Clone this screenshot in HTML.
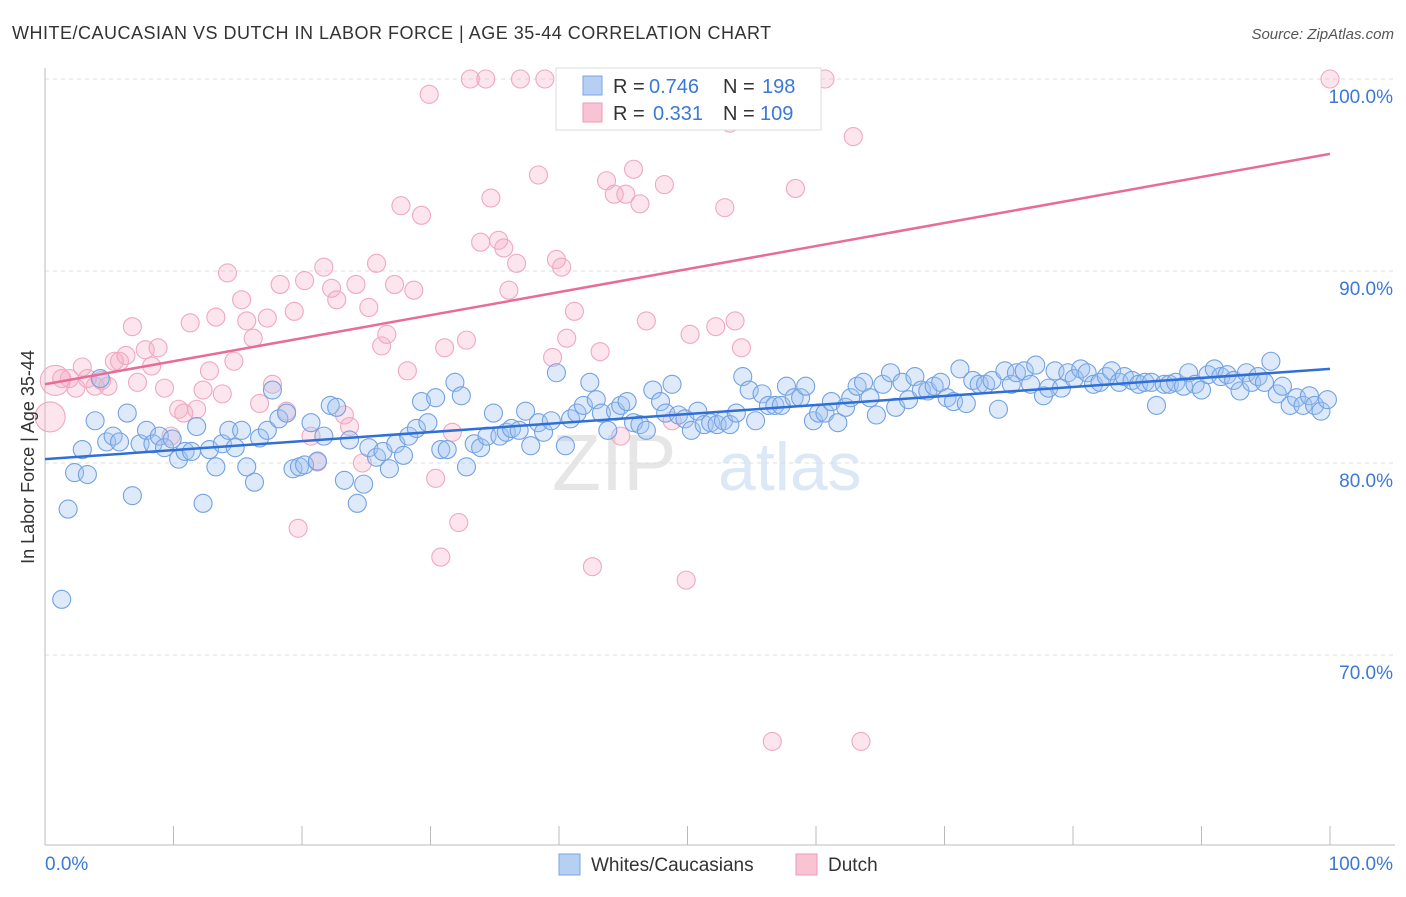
<!DOCTYPE html>
<html><head><meta charset="utf-8"><style>
body{margin:0;background:#fff;font-family:"Liberation Sans",sans-serif;}
svg text{font-family:"Liberation Sans",sans-serif;}
</style></head><body>
<svg id="chart" width="1406" height="892" viewBox="0 0 1406 892" xmlns="http://www.w3.org/2000/svg">
<text x="12" y="39" font-size="18" letter-spacing="0.5" fill="#333">WHITE/CAUCASIAN VS DUTCH IN LABOR FORCE | AGE 35-44 CORRELATION CHART</text>
<text x="1394" y="39" font-size="15" fill="#555" text-anchor="end" font-style="italic">Source: ZipAtlas.com</text>
<g><text x="552" y="490" font-size="80" fill="#e6e6e6" font-family="Liberation Serif">ZIP</text><text x="718" y="490" font-size="68" fill="#dce8f6">atlas</text></g>
<g id="grid"></g>
<g id="axes"></g>
<g id="pts"></g>
<g id="trends"></g>
<text transform="translate(34,457) rotate(-90)" font-size="18" fill="#333" text-anchor="middle">In Labor Force | Age 35-44</text>
<g>
<rect x="556" y="68" width="265" height="62" fill="#fff" stroke="#ddd"/>
<rect x="583" y="76" width="19" height="19" fill="#b5d0f3" stroke="#7aa6e6"/>
<rect x="583" y="103" width="19" height="19" fill="#f8c4d4" stroke="#ee9ab6"/>
<g font-size="20">
<text x="613" y="93" fill="#333">R =</text><text x="649" y="93" fill="#3b78d8">0.746</text>
<text x="723" y="93" fill="#333">N =</text><text x="762" y="93" fill="#3b78d8">198</text></g>
<g font-size="20">
<text x="613" y="120" fill="#333">R =</text><text x="653" y="120" fill="#3b78d8">0.331</text>
<text x="723" y="120" fill="#333">N =</text><text x="760" y="120" fill="#3b78d8">109</text></g>
</g>
<g>
<rect x="559" y="854" width="21" height="21" fill="#b5d0f3" stroke="#7aa6e6"/>
<text x="591" y="871" font-size="19" fill="#333">Whites/Caucasians</text>
<rect x="796" y="854" width="21" height="21" fill="#f8c4d4" stroke="#ee9ab6"/>
<text x="828" y="871" font-size="19" fill="#333">Dutch</text>
</g>
</svg>
<script>
const yTicks=[100,90,80,70];
const yTickLabels=["100.0%","90.0%","80.0%","70.0%"];
const blueX=[1.3,1.8,2.3,2.9,3.3,3.9,4.3,4.8,5.3,5.8,6.4,6.8,7.4,7.9,8.4,8.9,9.3,9.9,10.4,10.9,11.4,11.8,12.3,12.8,13.3,13.8,14.3,14.8,15.3,15.7,16.3,16.7,17.3,17.7,18.2,18.8,19.3,19.8,20.2,20.7,21.2,21.7,22.2,22.7,23.3,23.7,24.3,24.8,25.2,25.8,26.3,26.8,27.3,27.9,28.3,28.9,29.3,29.8,30.4,30.8,31.3,31.9,32.4,32.8,33.4,33.9,34.4,34.9,35.4,35.9,36.3,36.9,37.4,37.8,38.4,38.8,39.4,39.8,40.5,40.9,41.4,41.9,42.4,42.9,43.3,43.8,44.4,44.8,45.3,45.8,46.3,46.8,47.3,47.9,48.3,48.8,49.3,49.8,50.3,50.8,51.3,51.8,52.3,52.8,53.3,53.8,54.3,54.8,55.3,55.8,56.3,56.8,57.3,57.7,58.3,58.8,59.2,59.8,60.2,60.7,61.2,61.7,62.3,62.7,63.2,63.7,64.2,64.7,65.2,65.8,66.2,66.7,67.2,67.7,68.2,68.7,69.2,69.7,70.2,70.7,71.2,71.7,72.2,72.7,73.2,73.7,74.2,74.7,75.2,75.6,76.2,76.7,77.1,77.7,78.1,78.6,79.1,79.6,80.1,80.6,81.1,81.6,82.1,82.6,83.0,83.6,84.0,84.6,85.1,85.6,86.1,86.5,87.1,87.5,88.0,88.6,89.0,89.5,90.0,90.5,91.0,91.5,92.0,92.5,93.0,93.5,93.9,94.4,94.9,95.4,95.9,96.3,96.9,97.4,97.9,98.4,98.8,99.3,99.8];
const blueY=[72.9,77.6,79.5,80.7,79.4,82.2,84.4,81.1,81.4,81.1,82.6,78.3,81.0,81.7,81.0,81.4,80.8,81.25,80.2,80.6,80.6,81.9,77.9,80.7,79.8,81.0,81.7,80.8,81.7,79.8,79.0,81.3,81.7,83.8,82.3,82.6,79.7,79.8,79.9,82.1,80.1,81.4,83.0,82.9,79.1,81.2,77.9,78.9,80.8,80.3,80.6,79.7,81.0,80.4,81.4,81.8,83.2,82.1,83.4,80.7,80.7,84.2,83.5,79.8,81.0,80.8,81.4,82.6,81.4,81.6,81.8,81.7,82.7,80.9,82.1,81.6,82.2,84.7,80.9,82.3,82.6,83.0,84.2,83.3,82.6,81.7,82.7,83.0,83.2,82.1,82.0,81.7,83.8,83.2,82.6,84.1,82.5,82.3,81.7,82.7,82.0,82.1,82.0,82.2,82.0,82.6,84.5,83.8,82.2,83.6,83.0,83.0,83.0,84.0,83.4,83.4,84.0,82.2,82.6,82.6,83.2,82.1,82.9,83.4,84.0,84.2,83.4,82.5,84.1,84.7,82.9,84.2,83.3,84.5,83.8,83.75,84.0,84.2,83.4,83.2,84.9,83.1,84.3,84.1,84.1,84.3,82.8,84.8,84.1,84.7,84.8,84.1,85.1,83.5,83.9,84.8,83.9,84.7,84.4,84.9,84.7,84.1,84.2,84.5,84.8,84.2,84.5,84.3,84.1,84.2,84.2,83.0,84.1,84.1,84.2,84.0,84.7,84.1,83.8,84.6,84.9,84.5,84.6,84.3,83.75,84.7,84.2,84.5,84.2,85.3,83.6,84.0,83.0,83.4,83.0,83.5,83.0,82.7,83.3];
const pinkX=[0.4,0.8,1.3,1.9,2.4,2.9,3.3,3.9,4.4,4.9,5.4,5.8,6.3,6.8,7.2,7.8,8.3,8.8,9.3,9.8,10.4,10.8,11.3,11.8,12.3,12.8,13.3,13.8,14.2,14.7,15.3,15.7,16.2,16.7,17.3,17.7,18.3,18.8,19.4,19.7,20.2,20.7,21.2,21.7,22.3,22.7,23.3,23.7,24.2,24.7,25.2,25.8,26.2,26.6,27.2,27.7,28.2,28.7,29.3,29.9,30.4,30.8,31.1,31.7,32.2,32.8,33.1,33.9,34.3,34.7,35.3,35.7,36.1,36.7,37.0,38.4,38.9,39.5,39.8,40.2,40.6,41.2,42.6,43.2,43.7,44.3,44.8,45.2,45.8,46.3,46.8,48.2,48.8,49.9,50.2,51.8,52.2,52.9,53.3,53.7,54.2,56.6,58.4,60.7,62.9,63.5,100];
const pinkY=[82.4,84.3,84.4,84.4,83.9,85.0,84.4,84.0,84.3,84.0,85.3,85.3,85.6,87.1,84.2,85.9,85.05,86.0,83.9,81.4,82.8,82.6,87.3,82.8,83.8,84.8,87.6,83.6,89.9,85.3,88.5,87.4,86.5,83.1,87.55,84.1,89.3,82.7,87.9,76.6,89.5,81.4,80.05,90.2,89.1,88.5,82.5,81.9,89.3,80.0,88.1,90.4,86.1,86.7,89.3,93.4,84.8,89.0,92.9,99.2,79.2,75.1,86.0,81.6,76.9,86.4,100,91.5,100,93.8,91.6,91.2,89.0,90.4,100,95.0,100,85.5,90.6,90.2,86.5,87.9,74.6,85.8,94.7,94.0,81.4,94.0,95.3,93.5,87.4,94.5,82.2,73.9,86.7,100,87.1,93.3,97.7,87.4,86.0,65.5,94.3,100,97.0,65.5,100];
const blueTrend=[80.2,84.9];
const pinkTrend=[84.1,96.1];
const NS="http://www.w3.org/2000/svg";
const X0=45,X1=1330,Y100=79,PX=19.2;
const sx=v=>X0+(X1-X0)*v/100;
const sy=v=>Y100+(100-v)*PX;
function mk(tag,attrs,parent){const e=document.createElementNS(NS,tag);for(const k in attrs)e.setAttribute(k,attrs[k]);document.getElementById(parent).appendChild(e);return e;}
yTicks.forEach((t,i)=>{
 const l=mk('line',{x1:X0,x2:1395,y1:sy(t),y2:sy(t),stroke:'#ddd','stroke-dasharray':'4,4'},'grid');
 
 
 const tx=mk('text',{x:1393,y:sy(t)+24,'font-size':19,fill:'#3b78d8','text-anchor':'end'},'axes');
 tx.textContent=yTickLabels[i];
 
 
});
const ax=mk('line',{x1:X0,x2:X0,y1:68,y2:845,stroke:'#bbb'},'axes');


const bx=mk('line',{x1:X0,x2:1395,y1:845,y2:845,stroke:'#bbb'},'axes');


for(let i=0;i<=10;i++){const t=mk('line',{x1:sx(i*10),x2:sx(i*10),y1:826,y2:845,stroke:'#bbb'},'axes');
 
 }
const xl0=mk('text',{x:45,y:870,'font-size':19,fill:'#3b78d8'},'axes');xl0.textContent='0.0%';


const xl1=mk('text',{x:1393,y:870,'font-size':19,fill:'#3b78d8','text-anchor':'end'},'axes');xl1.textContent='100.0%';


pinkX.forEach((x,i)=>{const c=mk('circle',{cx:sx(x),cy:sy(pinkY[i]),r:i<2?15:9,fill:'rgba(245,170,195,0.3)',stroke:'#f0a8bf','stroke-width':1.1},'pts');
 
 });
blueX.forEach((x,i)=>{const c=mk('circle',{cx:sx(x),cy:sy(blueY[i]),r:9,fill:'rgba(160,195,240,0.35)',stroke:'#72a2e3','stroke-width':1.1},'pts');
 
 });
const bt=mk('line',{x1:sx(0),y1:sy(blueTrend[0]),x2:sx(100),y2:sy(blueTrend[1]),stroke:'#2f6fd6','stroke-width':2.5},'trends');


const pt=mk('line',{x1:sx(0),y1:sy(pinkTrend[0]),x2:sx(100),y2:sy(pinkTrend[1]),stroke:'#e86b98','stroke-width':2.5},'trends');


</script>
</body></html>
